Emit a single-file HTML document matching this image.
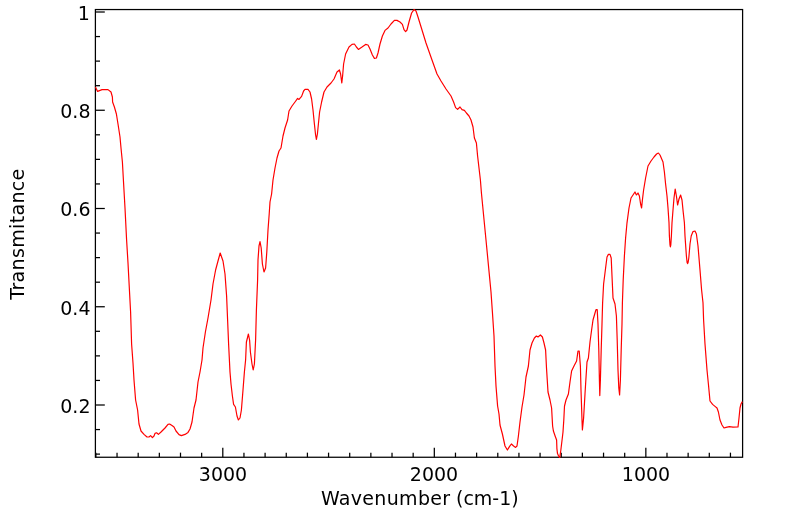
<!DOCTYPE html>
<html><head><meta charset="utf-8"><title>Spectrum</title>
<style>
html,body{margin:0;padding:0;background:#fff;}
svg{display:block}
text{font-family:"DejaVu Sans","Liberation Sans",sans-serif;font-size:19px;fill:#000}
</style></head><body>
<svg width="799" height="516" viewBox="0 0 799 516">
<rect width="799" height="516" fill="#fff"/>
<defs><clipPath id="c"><rect x="94.8" y="9" width="648.4" height="449"/></clipPath></defs>
<rect x="95.4" y="9.55" width="647.2" height="447.7" fill="none" stroke="#000" stroke-width="1.25"/>
<g stroke="#000" stroke-width="1.25">
<line x1="95.4" x2="100.0" y1="454.12" y2="454.12"/>
<line x1="95.4" x2="100.0" y1="429.56" y2="429.56"/>
<line x1="95.4" x2="104.80000000000001" y1="405.0" y2="405.0"/>
<line x1="95.4" x2="100.0" y1="380.44" y2="380.44"/>
<line x1="95.4" x2="100.0" y1="355.88" y2="355.88"/>
<line x1="95.4" x2="100.0" y1="331.31" y2="331.31"/>
<line x1="95.4" x2="104.80000000000001" y1="306.75" y2="306.75"/>
<line x1="95.4" x2="100.0" y1="282.19" y2="282.19"/>
<line x1="95.4" x2="100.0" y1="257.62" y2="257.62"/>
<line x1="95.4" x2="100.0" y1="233.06" y2="233.06"/>
<line x1="95.4" x2="104.80000000000001" y1="208.5" y2="208.5"/>
<line x1="95.4" x2="100.0" y1="183.94" y2="183.94"/>
<line x1="95.4" x2="100.0" y1="159.37" y2="159.37"/>
<line x1="95.4" x2="100.0" y1="134.81" y2="134.81"/>
<line x1="95.4" x2="104.80000000000001" y1="110.25" y2="110.25"/>
<line x1="95.4" x2="100.0" y1="85.69" y2="85.69"/>
<line x1="95.4" x2="100.0" y1="61.12" y2="61.12"/>
<line x1="95.4" x2="100.0" y1="36.56" y2="36.56"/>
<line x1="95.4" x2="104.80000000000001" y1="12.0" y2="12.0"/>
<line x1="730.45" x2="730.45" y1="452.65" y2="457.25"/>
<line x1="709.3" x2="709.3" y1="452.65" y2="457.25"/>
<line x1="688.14" x2="688.14" y1="452.65" y2="457.25"/>
<line x1="666.99" x2="666.99" y1="452.65" y2="457.25"/>
<line x1="645.84" x2="645.84" y1="447.85" y2="457.25"/>
<line x1="624.69" x2="624.69" y1="452.65" y2="457.25"/>
<line x1="603.54" x2="603.54" y1="452.65" y2="457.25"/>
<line x1="582.38" x2="582.38" y1="452.65" y2="457.25"/>
<line x1="561.23" x2="561.23" y1="452.65" y2="457.25"/>
<line x1="540.08" x2="540.08" y1="452.65" y2="457.25"/>
<line x1="518.93" x2="518.93" y1="452.65" y2="457.25"/>
<line x1="497.78" x2="497.78" y1="452.65" y2="457.25"/>
<line x1="476.62" x2="476.62" y1="452.65" y2="457.25"/>
<line x1="455.47" x2="455.47" y1="452.65" y2="457.25"/>
<line x1="434.32" x2="434.32" y1="447.85" y2="457.25"/>
<line x1="413.17" x2="413.17" y1="452.65" y2="457.25"/>
<line x1="392.02" x2="392.02" y1="452.65" y2="457.25"/>
<line x1="370.86" x2="370.86" y1="452.65" y2="457.25"/>
<line x1="349.71" x2="349.71" y1="452.65" y2="457.25"/>
<line x1="328.56" x2="328.56" y1="452.65" y2="457.25"/>
<line x1="307.41" x2="307.41" y1="452.65" y2="457.25"/>
<line x1="286.26" x2="286.26" y1="452.65" y2="457.25"/>
<line x1="265.1" x2="265.1" y1="452.65" y2="457.25"/>
<line x1="243.95" x2="243.95" y1="452.65" y2="457.25"/>
<line x1="222.8" x2="222.8" y1="447.85" y2="457.25"/>
<line x1="201.65" x2="201.65" y1="452.65" y2="457.25"/>
<line x1="180.5" x2="180.5" y1="452.65" y2="457.25"/>
<line x1="159.34" x2="159.34" y1="452.65" y2="457.25"/>
<line x1="138.19" x2="138.19" y1="452.65" y2="457.25"/>
<line x1="117.04" x2="117.04" y1="452.65" y2="457.25"/>
<line x1="95.89" x2="95.89" y1="452.65" y2="457.25"/>
</g>
<path clip-path="url(#c)" d="M95.4,87.0 L97.6,91.4 L102.0,89.6 L108.0,89.6 L111.0,92.0 L112.4,97.0 L112.6,102.0 L114.4,107.0 L116.4,114.0 L118.0,124.0 L120.0,137.0 L121.0,148.0 L122.4,162.0 L123.4,180.0 L125.0,208.0 L126.6,240.0 L128.0,263.0 L129.0,282.0 L130.6,312.0 L131.6,344.0 L133.0,363.0 L134.0,380.0 L135.6,400.0 L137.6,410.0 L139.0,424.0 L141.0,431.0 L144.0,434.4 L147.0,437.0 L149.0,437.0 L150.6,435.6 L152.4,437.6 L154.0,436.0 L155.0,433.4 L156.6,432.8 L158.4,434.4 L161.0,432.0 L165.0,428.0 L168.0,424.4 L169.6,424.0 L172.0,425.6 L174.0,427.0 L176.0,431.0 L179.0,434.6 L181.4,435.6 L185.0,434.4 L188.0,432.4 L190.0,429.0 L192.0,422.0 L194.0,408.0 L196.0,400.0 L198.0,382.0 L200.0,372.0 L202.0,360.0 L203.0,348.0 L205.4,332.0 L208.0,318.0 L211.0,300.0 L213.0,284.0 L215.6,270.0 L218.0,261.0 L220.2,253.0 L223.0,261.0 L225.0,274.0 L226.6,296.0 L227.6,320.0 L228.6,344.0 L229.4,360.0 L230.0,372.0 L231.0,384.0 L232.4,396.0 L233.6,404.4 L235.4,407.0 L237.0,416.0 L238.4,420.0 L240.0,418.0 L241.4,410.0 L243.0,390.0 L244.4,372.0 L245.6,360.0 L246.4,342.0 L248.4,334.0 L249.6,340.0 L250.4,352.0 L252.0,364.0 L253.2,370.0 L254.4,364.0 L255.6,340.0 L256.4,310.0 L257.6,280.0 L258.0,260.0 L259.0,246.0 L260.0,241.6 L261.2,248.0 L262.4,264.0 L264.0,272.0 L265.6,268.0 L266.8,252.0 L268.0,230.0 L269.2,214.0 L270.0,202.0 L271.6,194.0 L273.0,180.0 L275.0,168.0 L277.0,158.0 L279.0,151.0 L281.0,148.0 L283.0,136.0 L285.0,128.0 L287.6,120.0 L289.0,111.0 L292.0,106.0 L295.0,102.0 L297.6,98.4 L299.0,99.4 L301.6,96.4 L303.6,91.0 L305.0,89.4 L308.0,89.4 L310.0,92.0 L311.6,99.0 L313.0,110.0 L314.4,124.0 L315.6,135.0 L316.4,139.4 L317.4,134.0 L318.4,124.0 L319.6,112.0 L321.6,102.0 L324.0,92.0 L327.0,87.0 L331.0,83.0 L334.0,79.0 L337.0,72.0 L339.4,70.0 L340.6,74.0 L341.8,83.0 L342.6,76.0 L343.6,64.0 L345.6,54.0 L349.0,47.0 L352.0,44.4 L354.4,44.0 L356.4,47.0 L358.4,49.4 L362.0,47.0 L365.6,44.4 L368.0,45.0 L370.0,49.0 L372.4,55.0 L374.4,58.4 L376.4,58.0 L378.0,53.0 L380.0,44.0 L382.4,36.0 L385.0,30.4 L388.0,28.0 L391.0,24.0 L394.4,20.4 L397.0,20.4 L400.0,22.0 L402.4,24.4 L404.0,29.6 L405.6,31.6 L407.0,30.0 L409.0,22.0 L411.6,13.0 L414.0,9.6 L416.0,11.0 L418.0,17.0 L422.0,30.0 L426.0,43.0 L432.0,60.0 L437.0,74.0 L441.0,81.0 L446.0,89.0 L451.0,96.0 L453.6,102.0 L455.6,107.6 L457.6,109.4 L460.0,107.0 L462.0,109.6 L464.4,110.4 L466.4,113.0 L469.0,116.0 L471.0,120.0 L473.0,127.0 L474.4,138.0 L476.4,143.0 L477.6,156.0 L479.0,168.0 L480.4,180.0 L481.4,192.8 L486.0,240.0 L491.0,292.0 L492.4,312.0 L494.0,336.0 L495.0,366.0 L496.0,386.0 L497.6,406.0 L499.0,414.0 L500.0,425.0 L502.4,434.0 L505.0,446.0 L507.4,450.0 L509.6,446.4 L511.4,444.0 L513.6,446.0 L515.6,447.4 L517.0,446.0 L518.4,436.0 L520.0,422.0 L522.0,407.0 L524.0,395.0 L526.0,377.0 L528.4,366.0 L530.0,350.0 L532.0,343.0 L534.4,338.0 L536.4,336.0 L538.0,337.0 L540.4,335.0 L542.4,337.0 L544.0,343.0 L545.6,350.0 L546.5,368.0 L548.0,392.0 L550.0,400.0 L551.6,408.0 L552.6,426.0 L553.4,431.0 L555.2,436.2 L556.6,440.0 L556.9,448.6 L557.5,453.6 L558.6,456.0 L559.7,457.6 L560.8,450.5 L561.4,445.5 L562.3,438.0 L563.0,432.0 L563.8,420.0 L564.5,406.0 L566.0,400.0 L568.4,394.0 L570.0,382.0 L571.6,371.0 L574.0,366.0 L576.6,361.0 L578.0,351.0 L579.2,351.0 L580.4,366.0 L581.0,390.0 L582.0,420.0 L582.4,430.0 L583.6,418.0 L585.0,394.0 L585.6,384.0 L587.0,362.0 L588.4,358.0 L590.0,342.0 L591.6,330.0 L593.0,320.0 L595.0,313.0 L596.0,309.6 L597.2,309.6 L598.0,324.0 L598.8,350.0 L599.4,380.0 L599.8,395.6 L600.4,380.0 L601.2,350.0 L602.0,324.0 L602.6,303.0 L603.6,284.0 L605.6,268.0 L607.0,257.0 L608.4,254.4 L610.0,254.4 L611.2,258.0 L612.0,276.0 L613.0,298.0 L615.0,304.0 L616.4,316.0 L617.2,340.0 L618.0,370.0 L618.8,388.0 L619.6,395.0 L620.4,380.0 L621.2,350.0 L622.0,324.0 L622.4,303.0 L623.2,280.0 L624.4,256.0 L625.6,238.0 L627.0,222.8 L629.0,208.0 L631.0,198.0 L633.0,195.0 L635.0,192.0 L636.4,195.0 L638.0,193.0 L639.4,196.0 L640.6,204.0 L641.6,208.0 L642.4,200.0 L643.6,190.0 L645.6,178.0 L648.0,166.0 L651.0,161.0 L654.0,157.0 L656.6,154.0 L658.4,153.0 L660.0,155.0 L663.0,162.0 L664.4,172.0 L665.6,184.0 L667.0,196.0 L668.0,208.0 L669.0,222.8 L669.4,236.0 L670.0,245.0 L670.4,247.0 L670.8,245.0 L671.4,236.0 L672.0,222.8 L673.0,210.0 L674.0,198.0 L675.2,189.0 L676.4,196.0 L677.6,205.0 L679.0,199.0 L680.6,195.0 L682.0,200.0 L683.2,212.0 L684.4,222.8 L685.0,236.0 L686.4,256.0 L687.1,262.4 L687.6,263.6 L688.1,262.4 L688.8,258.0 L690.0,244.0 L691.2,236.0 L693.0,231.6 L695.0,231.0 L696.4,234.0 L698.0,246.0 L700.0,270.0 L701.6,290.0 L703.0,302.8 L703.6,320.0 L705.0,344.0 L707.0,370.0 L708.4,384.0 L710.0,401.0 L712.6,404.4 L715.0,406.4 L717.0,408.0 L718.4,412.0 L720.0,420.0 L722.0,425.0 L724.0,428.0 L726.0,427.4 L729.4,426.6 L733.0,427.2 L738.0,427.0 L739.0,418.0 L740.0,408.0 L741.0,404.0 L742.4,401.6" fill="none" stroke="#ff0000" stroke-width="1.2" stroke-linejoin="round"/>
<g text-anchor="end">
<text x="89.9" y="19.9">1</text>
<text x="90.5" y="118">0.8</text>
<text x="90.5" y="216.3">0.6</text>
<text x="90.5" y="314.5">0.4</text>
<text x="90.5" y="412.8">0.2</text>
</g>
<g text-anchor="middle">
<text x="223.0" y="481">3000</text>
<text x="434.0" y="481">2000</text>
<text x="646.0" y="481">1000</text>
<text x="320.9" y="505.1" text-anchor="start" textLength="129.2" lengthAdjust="spacing">Wavenumber</text>
<text x="456" y="505.1" text-anchor="start" textLength="62.7" lengthAdjust="spacing">(cm-1)</text>
<text transform="translate(24,234.2) rotate(-90)" textLength="131" lengthAdjust="spacing">Transmitance</text>
</g>
</svg>
</body></html>
